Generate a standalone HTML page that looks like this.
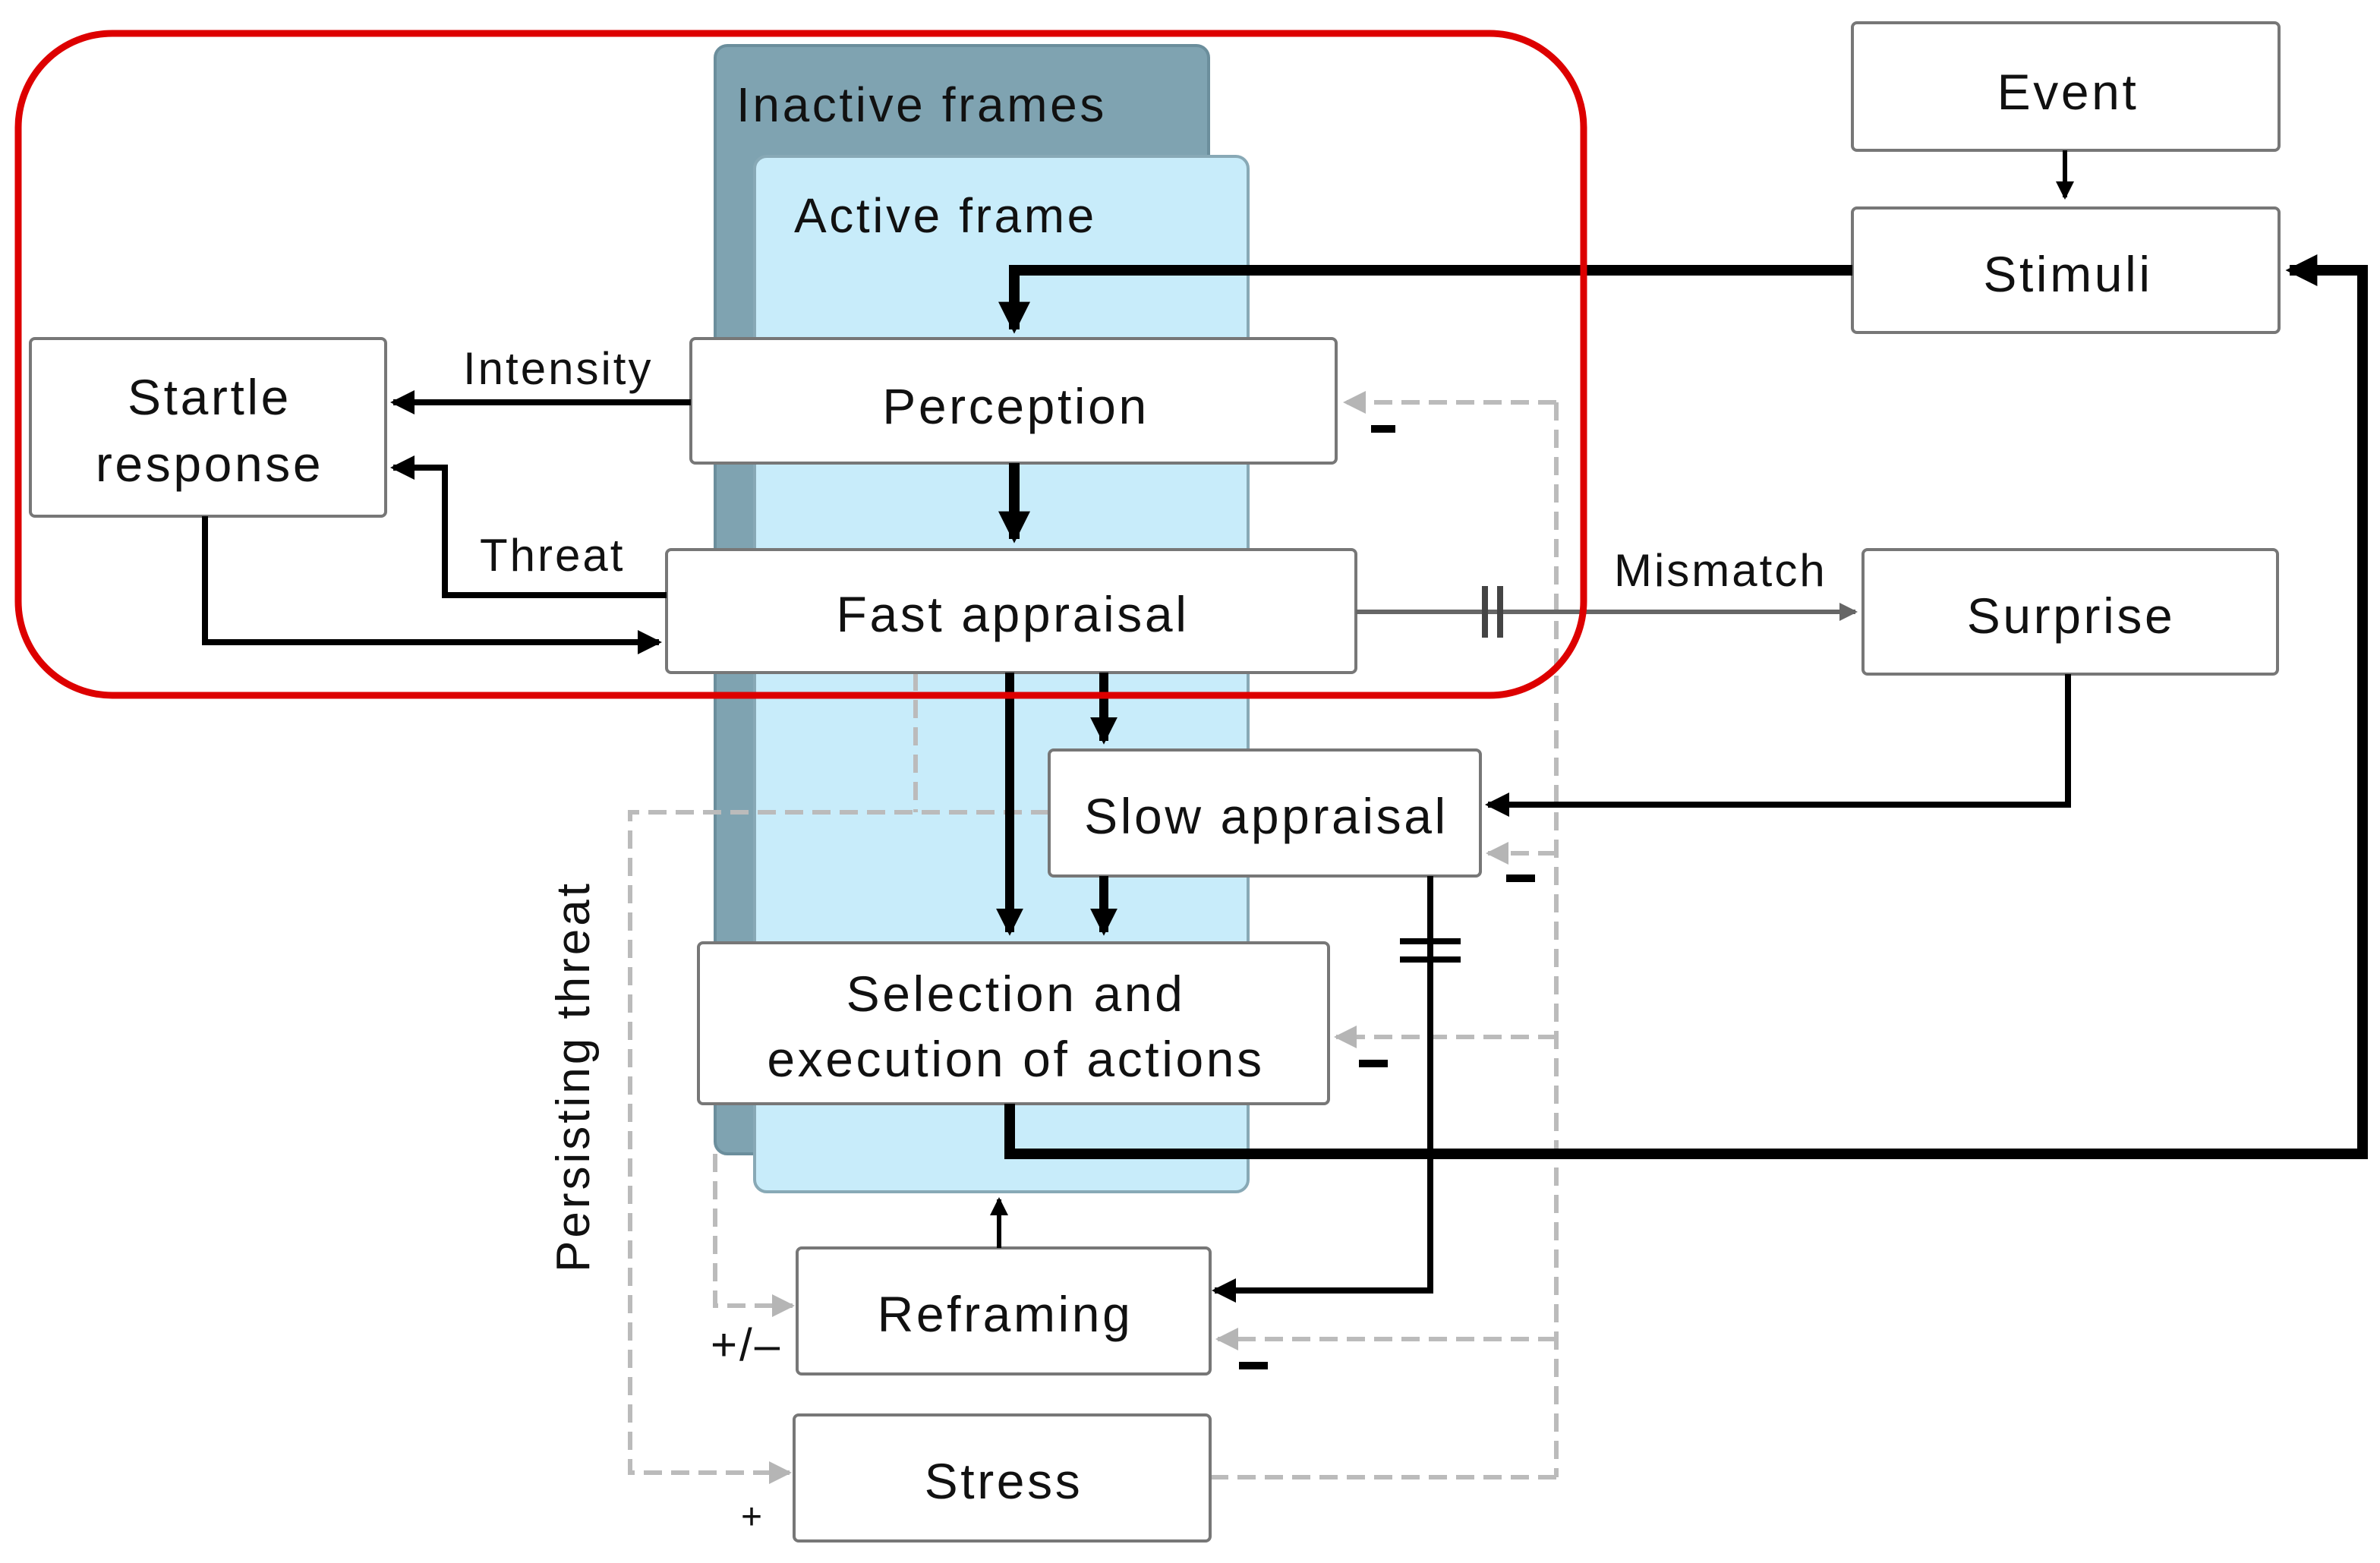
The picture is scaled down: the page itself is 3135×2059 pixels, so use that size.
<!DOCTYPE html>
<html><head><meta charset="utf-8"><style>
html,body{margin:0;padding:0;background:#fff;}
svg{display:block;}
text{font-family:"Liberation Sans",sans-serif;}
</style></head><body>
<svg width="3135" height="2059" viewBox="0 0 1567.5 1029.5" xmlns="http://www.w3.org/2000/svg">
<defs>
<marker id="ab" markerWidth="4" markerHeight="4" refX="3.5" refY="2" orient="auto" markerUnits="strokeWidth"><path d="M0,0 L4,2 L0,4 z" fill="#000"/></marker>
<marker id="abt" markerWidth="3" markerHeight="3" refX="2.6" refY="1.5" orient="auto" markerUnits="strokeWidth"><path d="M0,0 L3,1.5 L0,3 z" fill="#000"/></marker>
<marker id="ag" markerWidth="5" markerHeight="5" refX="4.5" refY="2.5" orient="auto" markerUnits="strokeWidth"><path d="M0,0 L5,2.5 L0,5 z" fill="#b5b5b5"/></marker>
<marker id="agd" markerWidth="4" markerHeight="4" refX="3.5" refY="2" orient="auto" markerUnits="strokeWidth"><path d="M0,0 L4,2 L0,4 z" fill="#666"/></marker>
</defs>
<rect x="471" y="30" width="325" height="730" rx="8" fill="#7fa3b1" stroke="#6b8e9c" stroke-width="2"/>
<text x="485" y="80" font-size="32" letter-spacing="1.8" fill="#111">Inactive frames</text>
<rect x="497" y="103" width="325" height="682" rx="8" fill="#c8ecfa" stroke="#88a9b6" stroke-width="2"/>
<text x="523" y="153" font-size="32" letter-spacing="1.8" fill="#111">Active frame</text>

<g fill="none" stroke="#bbb" stroke-width="3" stroke-dasharray="12,6">
<path d="M1025,265 V973"/>
<path d="M1025,265 H886" marker-end="url(#ag)"/>
<path d="M1025,562 H980" marker-end="url(#ag)"/>
<path d="M1025,683 H880" marker-end="url(#ag)"/>
<path d="M1025,882 H802" marker-end="url(#ag)"/>
<path d="M797,973 H1025"/>
<path d="M603,443 V535"/>
<path d="M691,535 H415 V970 H520" marker-end="url(#ag)"/>
<path d="M471,760 V860 H522" marker-end="url(#ag)"/>
</g>

<g fill="#fff" stroke="#777" stroke-width="2">
<rect x="1220" y="15" width="281" height="84" rx="3"/>
<rect x="1220" y="137" width="281" height="82" rx="3"/>
<rect x="455" y="223" width="425" height="82" rx="3"/>
<rect x="20" y="223" width="234" height="117" rx="3"/>
<rect x="439" y="362" width="454" height="81" rx="3"/>
<rect x="1227" y="362" width="273" height="82" rx="3"/>
<rect x="691" y="494" width="284" height="83" rx="3"/>
<rect x="460" y="621" width="415" height="106" rx="3"/>
<rect x="525" y="822" width="272" height="83" rx="3"/>
<rect x="523" y="932" width="274" height="83" rx="3"/>
</g>
<g font-size="33" letter-spacing="1.8" fill="#111" text-anchor="middle">
<text x="1362" y="72">Event</text>
<text x="1362" y="192">Stimuli</text>
<text x="669" y="279">Perception</text>
<text x="138" y="273">Startle</text>
<text x="138" y="317">response</text>
<text x="667" y="416">Fast appraisal</text>
<text x="1364" y="417">Surprise</text>
<text x="834" y="549">Slow appraisal</text>
<text x="669" y="666">Selection and</text>
<text x="669" y="709">execution of actions</text>
<text x="662" y="877">Reframing</text>
<text x="661" y="987">Stress</text>
</g>

<g fill="none" stroke="#000">
<path d="M1360,99 V130" stroke-width="3" marker-end="url(#ab)"/>
<path d="M1220,178 H668 V217" stroke-width="7" marker-end="url(#abt)"/>
<path d="M668,305 V355" stroke-width="7" marker-end="url(#abt)"/>
<path d="M455,265 H259" stroke-width="4" marker-end="url(#ab)"/>
<path d="M439,392 H293 V308 H259" stroke-width="4" marker-end="url(#ab)"/>
<path d="M135,340 V423 H434" stroke-width="4" marker-end="url(#ab)"/>
<path d="M665,443 V614" stroke-width="6" marker-end="url(#abt)"/>
<path d="M727,443 V488" stroke-width="6" marker-end="url(#abt)"/>
<path d="M727,577 V614" stroke-width="6" marker-end="url(#abt)"/>
<path d="M1362,444 V530 H980" stroke-width="4" marker-end="url(#ab)"/>
<path d="M665,727 V760 H1556 V178 H1508" stroke-width="7" marker-end="url(#abt)"/>
<path d="M942,577 V850 H800" stroke-width="4" marker-end="url(#ab)"/>
<path d="M658,822 V790" stroke-width="3" marker-end="url(#ab)"/>
<path d="M922,620 H962 M922,632 H962" stroke-width="4"/>
</g>
<path d="M893,403 H1222" stroke="#666" stroke-width="3" fill="none" marker-end="url(#agd)"/>
<path d="M978,386 V420 M988,386 V420" stroke="#444" stroke-width="4"/>

<rect x="12" y="22" width="1031" height="436" rx="62" fill="none" stroke="#dd0000" stroke-width="4.5"/>

<g font-size="30" letter-spacing="1.5" fill="#111">
<text x="305" y="253">Intensity</text>
<text x="316" y="376">Threat</text>
<text x="1063" y="386">Mismatch</text>
<text x="468" y="896">+/–</text>
<text x="488" y="1007" font-size="24">+</text>
<text transform="translate(388,838) rotate(-90)" font-size="31" letter-spacing="2">Persisting threat</text>
</g>
<g fill="#000">
<rect x="903" y="280" width="16" height="5"/>
<rect x="992" y="576" width="19" height="5"/>
<rect x="895" y="698" width="19" height="5"/>
<rect x="816" y="897" width="19" height="5"/>
</g>
</svg>
</body></html>
